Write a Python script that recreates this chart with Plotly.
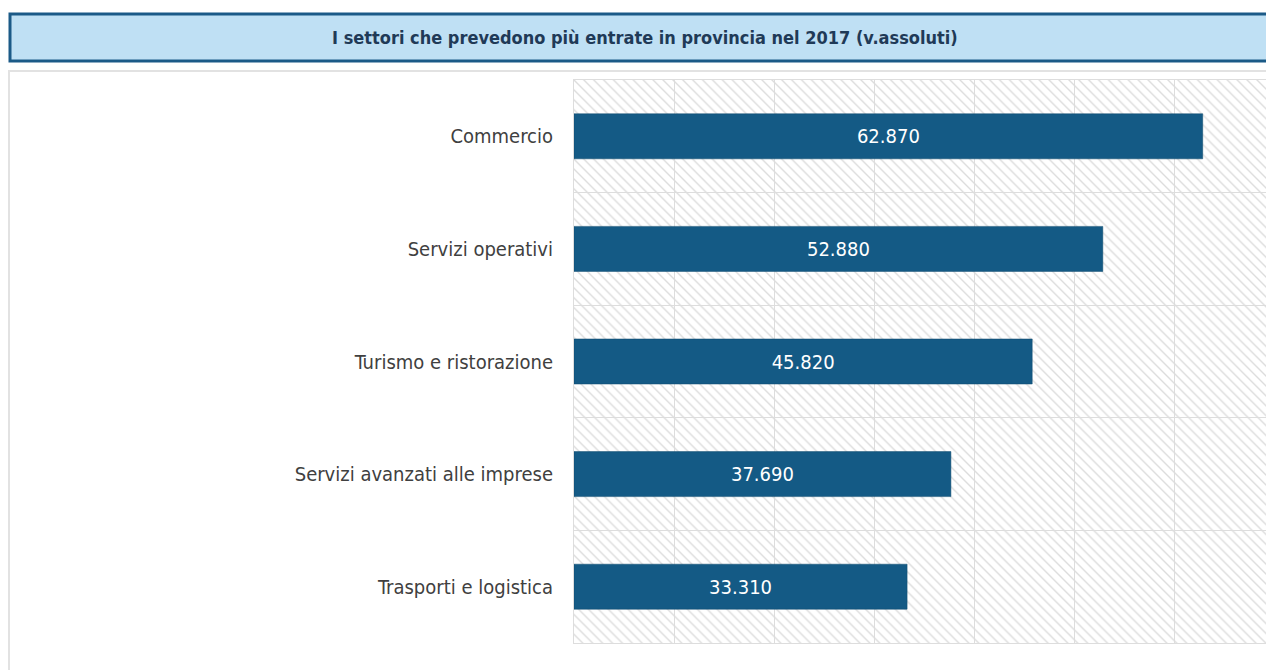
import plotly.graph_objects as go

categories = ["Commercio", "Servizi operativi", "Turismo e ristorazione",
              "Servizi avanzati alle imprese", "Trasporti e logistica"]
values = [62870, 52880, 45820, 37690, 33310]
title_text = "I settori che prevedono più entrate in provincia nel 2017 (v.assoluti)"
x_max = 69200
tick_step = 10000

W, H = 1266, 670
L, T, R, B = 574, 80, 0, 27
PW, PH = W - L - R, H - T - B

def px_x(p):  # p: page pixel
    return (p - L) / PW

def px_y(p):
    return (H - B - p) / PH

FONT = "DejaVu Sans Condensed, Liberation Sans Narrow, Open Sans, sans-serif"

fig = go.Figure()

# hatched background band for every category
fig.add_trace(go.Bar(
    y=categories, x=[x_max] * len(categories), orientation="h", width=1,
    marker=dict(color="rgba(0,0,0,0)", line=dict(width=0),
                pattern=dict(shape="\\", fillmode="replace", bgcolor="rgba(0,0,0,0)",
                             fgcolor="#dcdcdc", size=7, solidity=0.2)),
    hoverinfo="skip", showlegend=False,
))

fig.add_trace(go.Bar(
    y=categories, x=values, orientation="h", width=0.4,
    marker=dict(color="#145A85", line=dict(width=0.5, color="#0f4a6e")),
    texttemplate="%{x:,}", textposition="inside", insidetextanchor="middle",
    textfont=dict(color="white", size=20, family=FONT),
    showlegend=False,
))

fig.update_layout(
    width=W, height=H, barmode="overlay", separators=",.",
    margin=dict(l=L, t=T, r=R, b=B),
    plot_bgcolor="white", paper_bgcolor="white",
    font=dict(family=FONT, color="#404040"),
    xaxis=dict(range=[0, x_max], dtick=tick_step, tick0=0, showgrid=True,
               gridcolor="#dddddd", gridwidth=1, showticklabels=False, zeroline=False,
               showline=True, linecolor="#dddddd", linewidth=1, mirror=True, ticks=""),
    yaxis=dict(type="category", categoryorder="array", categoryarray=categories,
               autorange="reversed", tickson="boundaries", showgrid=True,
               gridcolor="#dddddd", gridwidth=1, showline=True, linecolor="#dddddd",
               linewidth=1, ticks="", ticklabelstandoff=16,
               tickfont=dict(size=20, color="#404040", family=FONT)),
    shapes=[
        # container frame
        dict(type="line", xref="paper", yref="paper", x0=px_x(8), x1=px_x(1300),
             y0=px_y(71), y1=px_y(71), line=dict(color="#e2e2e2", width=2), layer="above"),
        dict(type="line", xref="paper", yref="paper", x0=px_x(9), x1=px_x(9),
             y0=px_y(71), y1=px_y(700), line=dict(color="#e2e2e2", width=2), layer="above"),
        # title box
        dict(type="rect", xref="paper", yref="paper", x0=px_x(10), x1=px_x(1300),
             y0=px_y(61), y1=px_y(14), fillcolor="#BFE0F4",
             line=dict(color="#1B5A87", width=3), layer="above"),
    ],
    annotations=[
        dict(text=title_text, xref="paper", yref="paper", x=px_x(645), y=px_y(38),
             xanchor="center", yanchor="middle", showarrow=False,
             font=dict(size=18, color="#1F3A57", family=FONT, weight="bold")),
    ],
)

fig.write_html(
    "out.html",
    config={"displayModeBar": False},
    post_script="document.body.style.margin='0';document.body.style.overflow='hidden';",
)
